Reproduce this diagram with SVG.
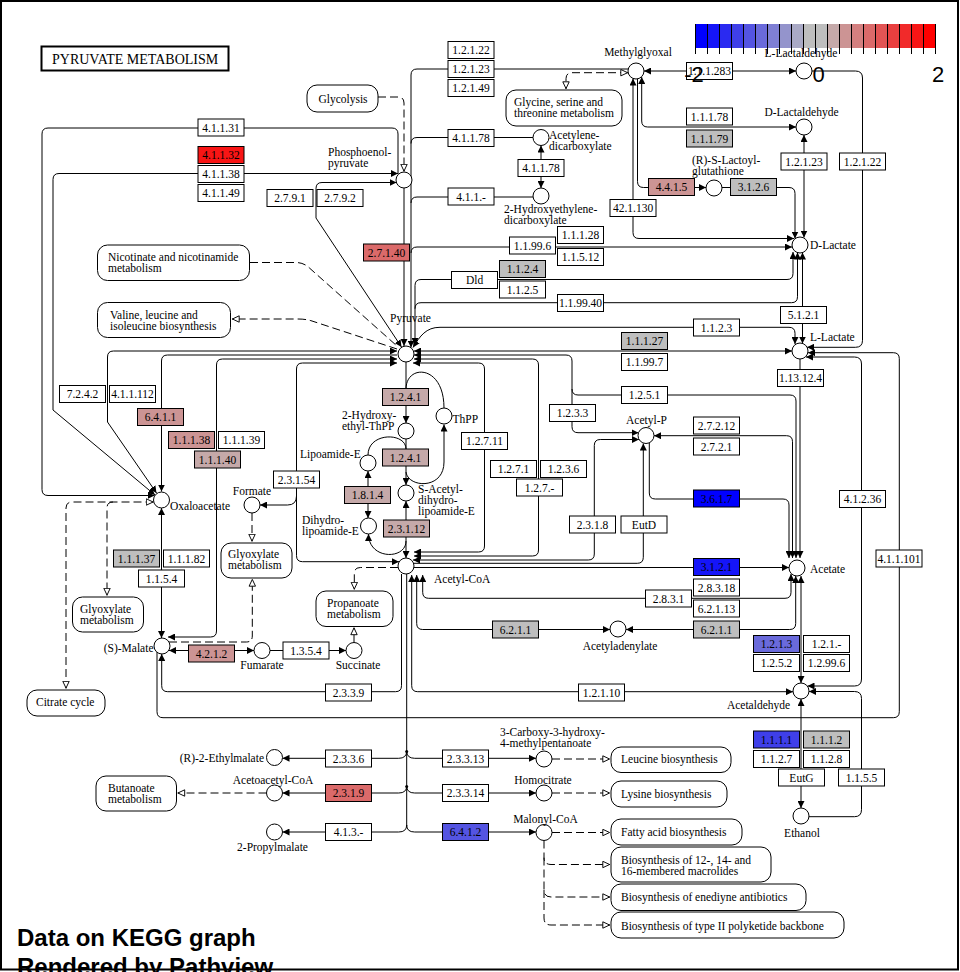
<svg xmlns="http://www.w3.org/2000/svg" width="960" height="972" viewBox="0 0 960 972">
<defs>
<style>
text{font-family:"Liberation Serif","Times New Roman",serif;font-size:11.5px;fill:#000}
.t{text-anchor:middle}
.s{text-anchor:start}
.n{text-anchor:end}
.e{fill:#fff;stroke:#000;stroke-width:1}
.g{fill:#BEBEBE}
.p1{fill:#C5A9A9}
.p2{fill:#CC9494}
.r4{fill:#DB6A6A}
.r9{fill:#F81515}
.b0{fill:#0000FF}
.b1{fill:#1515F8}
.b3{fill:#3F3FE9}
.b4{fill:#5454E2}
.b5{fill:#6A6ADB}
.c{fill:#fff;stroke:#000;stroke-width:1}
.m{fill:#fff;stroke:#000;stroke-width:1}
.l{fill:none;stroke:#000;stroke-width:1}
.d{fill:none;stroke:#000;stroke-width:1;stroke-dasharray:8 4}
.lg{font-family:"Liberation Sans",Arial,sans-serif;font-size:22px;text-anchor:middle}
.ft{font-family:"Liberation Sans",Arial,sans-serif;font-size:24px;font-weight:bold}
</style>
<marker id="a" viewBox="0 0 8 8" refX="8" refY="4" markerWidth="7" markerHeight="7" markerUnits="userSpaceOnUse" orient="auto-start-reverse"><path d="M0,0 L8,4 L0,8 z" fill="#000"/></marker>
<marker id="o" viewBox="0 0 10 10" refX="10" refY="5" markerWidth="8" markerHeight="8" markerUnits="userSpaceOnUse" orient="auto-start-reverse"><path d="M1,1 L9.5,5 L1,9 z" fill="#fff" stroke="#000" stroke-width="1.2"/></marker>
</defs>
<rect x="0" y="0" width="960" height="972" fill="#fff"/>
<rect x="1" y="1" width="957" height="968.5" fill="none" stroke="#000" stroke-width="2"/>

<g id="title"><rect x="41.5" y="46.5" width="187" height="24" fill="#fff" stroke="#000" stroke-width="2"/><text x="52" y="64" style="font-size:14px">PYRUVATE METABOLISM</text></g>

<g id="connectors">
<path class="l" d="M398,174 L398,134 Q398,128 392,128 L48,128 Q42,128 42,134 L42,489.5 Q42,495.5 48,495.5 L154.5,495.5" marker-end="url(#a)"/>
<path class="l" d="M155,495 L53,410 L53,179.5 Q53,173.5 59,173.5 L398,173.5" marker-start="url(#a)" marker-end="url(#a)"/>
<path class="l" d="M397,351 L113.5,351 Q107.5,351 107.5,357 L107.5,422 L156.5,493" marker-start="url(#a)" marker-end="url(#a)"/>
<path class="l" d="M397,355 L167.5,355 Q161.5,355 161.5,361 L161.5,491.5" marker-end="url(#a)"/>
<path class="l" d="M397,359 L222.5,359 Q216.5,359 216.5,365 L216.5,631 Q216.5,637 210.5,637 L168,637" marker-start="url(#a)" marker-end="url(#a)"/>
<path class="l" d="M397,363 L302.5,363 Q296.5,363 296.5,369 L296.5,555.7 Q296.5,561.7 302.5,561.7 L399,561.7" marker-start="url(#a)" marker-end="url(#a)"/>
<path class="l" d="M296.5,496 Q296.5,505 287.5,505 L260,505" marker-end="url(#a)"/>
<path class="l" d="M161.5,508 L161.5,638" marker-start="url(#a)" marker-end="url(#a)"/>
<path class="l" d="M169,650.5 L254,650.5" marker-start="url(#a)" marker-end="url(#a)"/>
<path class="l" d="M270,650.5 L346,650.5" marker-end="url(#a)"/>
<path class="l" d="M401.5,574 L401.5,685.7 Q401.5,691.7 395.5,691.7 L167.7,691.7 Q161.7,691.7 161.7,685.7 L161.7,654" marker-end="url(#a)"/>
<path class="l" d="M157,652 L157,711.7 Q157,717.7 163,717.7 L893.3,717.7 Q899.3,717.7 899.3,711.7 L899.3,358.7 Q899.3,352.7 893.3,352.7 L808,352.7" marker-end="url(#a)"/>
<path class="l" d="M812,71 L855.5,71 Q862.5,71 862.5,78 L862.5,340.3 Q862.5,347.3 855.5,347.3 L807,347.3" marker-end="url(#a)"/>
<path class="l" d="M806,357 L854.5,357 Q861.5,357 861.5,364 L861.5,679 Q861.5,686 854.5,686 L807.5,686" marker-start="url(#a)" marker-end="url(#a)"/>
<path class="l" d="M809,691.5 L854.5,691.5 Q861.5,691.5 861.5,698.5 L861.5,809.7 Q861.5,816.7 854.5,816.7 L809,816.7" marker-start="url(#a)"/>
<path class="l" d="M801,699 L801,808" marker-start="url(#a)" marker-end="url(#a)"/>
<path class="l" d="M801,576 L801,683" marker-start="url(#a)" marker-end="url(#a)"/>
<path class="l" d="M411.7,575 L411.7,685.7 Q411.7,691.7 417.7,691.7 L793,691.7" marker-start="url(#a)" marker-end="url(#a)"/>
<path class="l" d="M416.7,575 L416.7,623.5 Q416.7,629.5 422.7,629.5 L610,629.5" marker-start="url(#a)" marker-end="url(#a)"/>
<path class="l" d="M626,629.5 L789.7,629.5 Q795.7,629.5 795.7,623.5 L795.7,576" marker-start="url(#a)" marker-end="url(#a)"/>
<path class="l" d="M422.7,575 L422.7,592.3 Q422.7,598.3 428.7,598.3 L785,598.3 Q791,598.3 791,592.3 L791,574" marker-start="url(#a)" marker-end="url(#a)"/>
<path class="l" d="M414,567.5 L789,567.5" marker-end="url(#a)"/>
<path class="l" d="M643.3,443.5 L643.3,557.3 Q643.3,563.3 637.3,563.3 L413.5,563.3" marker-start="url(#a)"/>
<path class="l" d="M649.3,443 L649.3,493 Q649.3,499 655.3,499 L783,499 Q789,499 789,505 L789,558" marker-end="url(#a)"/>
<path class="l" d="M654,435.7 L786.5,435.7 Q792.5,435.7 792.5,441.7 L792.5,558" marker-start="url(#a)" marker-end="url(#a)"/>
<path class="l" d="M414,355 L566,355 Q572,355 572,361 L572,426.7 Q572,432.7 578,432.7 L638.5,432.7" marker-start="url(#a)" marker-end="url(#a)"/>
<path class="l" d="M572,389 Q572,395 578,395 L790,395 Q796,395 796,401 L796,558" marker-end="url(#a)"/>
<path class="l" d="M800,359 L800,558" marker-end="url(#a)"/>
<path class="l" d="M414,351 L792,351" marker-start="url(#a)" marker-end="url(#a)"/>
<path class="l" d="M413,347.5 C420,336 426,327.3 440,327.3 L789,327.3 Q795,327.3 795,333.3 L795,344" marker-start="url(#a)" marker-end="url(#a)"/>
<path class="l" d="M802.5,252.5 L802.5,343.5" marker-start="url(#a)" marker-end="url(#a)"/>
<path class="l" d="M793,252 L793,273.5 Q793,279.5 787,279.5 L421,279.5 Q415,279.5 415,285.5 L415,345" marker-start="url(#a)" marker-end="url(#a)"/>
<path class="l" d="M797.5,252.5 L797.5,296.7 Q797.5,302.7 791.5,302.7 L421,302.7 Q415,302.7 415,308.7" marker-start="url(#a)"/>
<path class="l" d="M628,69 L417,69 Q411,69 411,75 L411,347.5" marker-end="url(#a)"/>
<path class="l" d="M533,137.5 L417,137.5 Q411,137.5 411,143.5"/>
<path class="l" d="M533,197 L417,197 Q411,197 411,203"/>
<path class="l" d="M792,247 L417,247 Q411,247 411,253" marker-start="url(#a)"/>
<path class="l" d="M633,78.5 L633,232.5 Q633,238.5 639,238.5 L794,238.5" marker-start="url(#a)" marker-end="url(#a)"/>
<path class="l" d="M641.7,77 L641.7,121 Q641.7,127 647.7,127 L796,127" marker-start="url(#a)" marker-end="url(#a)"/>
<path class="l" d="M637.5,79 L637.5,181.5 Q637.5,187.5 643.5,187.5 L706,187.5" marker-end="url(#a)"/>
<path class="l" d="M722,187.5 L789,187.5 Q795,187.5 795,193.5 L795,238.5" marker-end="url(#a)"/>
<path class="l" d="M804,135 L804,237.5" marker-start="url(#a)" marker-end="url(#a)"/>
<path class="l" d="M644,71 L796,71" marker-start="url(#a)" marker-end="url(#a)"/>
<path class="l" d="M541,145.5 L541,188" marker-start="url(#a)" marker-end="url(#a)"/>
<path class="l" d="M404,188 L404,346" marker-end="url(#a)"/>
<path class="l" d="M396.5,182.5 L322,182.5 Q316,182.5 316,188.5 L316,218 L401.5,347" marker-start="url(#a)" marker-end="url(#a)"/>
<path class="d" d="M378,97 L398,97 Q404,97 404,103 L404,171.5" marker-end="url(#o)"/>
<path class="d" d="M250,262.5 L296,262.5 Q304,262.5 310,268.5 L397,346"/>
<path class="d" d="M397,349 L312,321 Q306,319 298,319 L232,319" marker-end="url(#o)"/>
<path class="d" d="M628,72.7 L572,72.7 Q566,72.7 566,78.7 L566,89" marker-start="url(#o)" marker-end="url(#o)"/>
<path class="d" d="M153.5,502 L72,502 Q66,502 66,508 L66,688.5" marker-start="url(#o)" marker-end="url(#o)"/>
<path class="d" d="M113,502 Q107,502 107,508 L107,595.5" marker-end="url(#o)"/>
<path class="d" d="M252,513 L252,541.5" marker-end="url(#o)"/>
<path class="d" d="M169,642 L246.3,642 Q252.3,642 252.3,636 L252.3,579" marker-end="url(#o)"/>
<path class="d" d="M398,567.5 L360.3,567.5 Q354.3,567.5 354.3,573.5 L354.3,589.5" marker-end="url(#o)"/>
<path class="d" d="M354,642.5 L354,627.5" marker-end="url(#o)"/>
<path class="d" d="M266.5,793 L177.5,793" marker-end="url(#o)"/>
<path class="l" d="M406.7,574 L406.7,826"/>
<path class="l" d="M282.5,758.3 L398.7,758.3 Q406.7,758.3 406.7,751 Q406.7,758.3 414.7,758.3 L536,758.3" marker-start="url(#a)" marker-end="url(#a)"/>
<path class="l" d="M282.5,793 L398.7,793 Q406.7,793 406.7,786 Q406.7,793 414.7,793 L536,793" marker-start="url(#a)" marker-end="url(#a)"/>
<path class="l" d="M282.5,832 L398.7,832 Q406.7,832 406.7,825 Q406.7,832 414.7,832 L536,832" marker-start="url(#a)" marker-end="url(#a)"/>
<circle cx="406.7" cy="751.5" r="1.5"/>
<circle cx="406.7" cy="786.5" r="1.5"/>
<path class="d" d="M552,759 L610,759" marker-end="url(#o)"/>
<path class="d" d="M552,793 L610,793" marker-end="url(#o)"/>
<path class="d" d="M552,832.5 L610,832.5" marker-end="url(#o)"/>
<path class="d" d="M544,840.5 L544,857.5 Q544,864.5 551,864.5 L610,864.5" marker-end="url(#o)"/>
<path class="d" d="M544,857.5 L544,890 Q544,897 551,897 L610,897" marker-end="url(#o)"/>
<path class="d" d="M544,890 L544,918 Q544,925 551,925 L610,925" marker-end="url(#o)"/>
<path class="l" d="M639,439.5 L600.3,439.5 Q594.3,439.5 594.3,445.5 L594.3,554 Q594.3,560 588.3,560 L413,560" marker-start="url(#a)" marker-end="url(#a)"/>
<path class="l" d="M414,359 L532.5,359 Q538.5,359 538.5,365 L538.5,550 Q538.5,556 532.5,556 L414,556" marker-start="url(#a)" marker-end="url(#a)"/>
<path class="l" d="M413,363 L478.5,363 Q484.5,363 484.5,369 L484.5,546 Q484.5,552 478.5,552 L414,552" marker-start="url(#a)" marker-end="url(#a)"/>
<path class="l" d="M406,362 L406,423" marker-end="url(#a)"/>
<path class="l" d="M406,389 C406,364 444,364 444,408"/>
<path class="l" d="M406,472 C408,488 444,490 444,462 L444,424.5" marker-end="url(#a)"/>
<path class="l" d="M406,439 L406,485" marker-end="url(#a)"/>
<path class="l" d="M368,455 C368,432 406,432 406,449"/>
<path class="l" d="M368,471 L368,518" marker-start="url(#a)" marker-end="url(#a)"/>
<path class="l" d="M368.5,534 C368.5,560 406,560 406,541" marker-start="url(#a)"/>
<path class="l" d="M406,501 L406,558" marker-start="url(#a)" marker-end="url(#a)"/>
</g>

<g id="maps">
<g id="m-glycolysis"><rect class="m" x="307" y="85" width="71" height="27" rx="10"/><text class="t" x="343" y="102.5">Glycolysis</text></g>
<g id="m-glycine"><rect class="m" x="506" y="90" width="116" height="36" rx="10"/><text x="514" y="106">Glycine, serine and</text><text x="514" y="117">threonine metabolism</text></g>
<g id="m-nicotinate"><rect class="m" x="97.5" y="245" width="152" height="35.5" rx="10"/><text x="108" y="261">Nicotinate and nicotinamide</text><text x="108" y="272">metabolism</text></g>
<g id="m-valine"><rect class="m" x="97.5" y="302.5" width="133" height="35" rx="10"/><text x="110" y="318.5">Valine, leucine and</text><text x="110" y="329.5">isoleucine biosynthesis</text></g>
<g id="m-glyoxylate1"><rect class="m" x="221" y="543" width="71" height="35" rx="10"/><text x="228" y="558">Glyoxylate</text><text x="228" y="569">metabolism</text></g>
<g id="m-glyoxylate2"><rect class="m" x="72.5" y="597" width="71" height="35" rx="10"/><text x="80" y="612.5">Glyoxylate</text><text x="80" y="623.5">metabolism</text></g>
<g id="m-citrate"><rect class="m" x="27" y="690" width="78" height="26" rx="10"/><text x="36" y="706">Citrate cycle</text></g>
<g id="m-propanoate"><rect class="m" x="316" y="591" width="77" height="35.5" rx="10"/><text x="327" y="607">Propanoate</text><text x="327" y="618">metabolism</text></g>
<g id="m-butanoate"><rect class="m" x="96" y="776" width="80.5" height="35" rx="10"/><text x="108" y="792">Butanoate</text><text x="108" y="803">metabolism</text></g>
<g id="m-leucine"><rect class="m" x="611" y="747" width="120" height="25.5" rx="10"/><text x="621" y="763">Leucine biosynthesis</text></g>
<g id="m-lysine"><rect class="m" x="611" y="781" width="116" height="26" rx="10"/><text x="621" y="797.5">Lysine biosynthesis</text></g>
<g id="m-fatty"><rect class="m" x="611" y="819" width="131" height="26" rx="10"/><text x="621" y="835.5">Fatty acid biosynthesis</text></g>
<g id="m-macrolides"><rect class="m" x="611" y="847" width="160" height="35" rx="10"/><text x="621" y="863.5">Biosynthesis of 12-, 14- and</text><text x="621" y="874.5">16-membered macrolides</text></g>
<g id="m-enediyne"><rect class="m" x="611" y="884" width="195" height="26.5" rx="10"/><text x="621" y="901">Biosynthesis of enediyne antibiotics</text></g>
<g id="m-polyketide"><rect class="m" x="611" y="912" width="233" height="26" rx="10"/><text x="621" y="929.5">Biosynthesis of type II polyketide backbone</text></g>
</g>

<g id="compounds">
<g id="c-pep"><circle class="c" cx="404" cy="180" r="8"/><text x="328" y="156">Phosphoenol-</text><text x="328" y="167">pyruvate</text></g>
<g id="c-methylglyoxal"><circle class="c" cx="636" cy="71" r="8"/><text class="t" x="638" y="56">Methylglyoxal</text></g>
<g id="c-llactaldehyde"><circle class="c" cx="804" cy="71" r="8"/><text class="t" x="801" y="57">L-Lactaldehyde</text></g>
<g id="c-dlactaldehyde"><circle class="c" cx="804" cy="127" r="8"/><text class="t" x="801.5" y="116">D-Lactaldehyde</text></g>
<g id="c-acetylenedicarboxylate"><circle class="c" cx="541" cy="137.5" r="8"/><text x="549" y="139">Acetylene-</text><text x="549" y="150">dicarboxylate</text></g>
<g id="c-hydroxyethylene"><circle class="c" cx="541" cy="196" r="8"/><text x="504" y="213">2-Hydroxyethylene-</text><text x="504" y="224">dicarboxylate</text></g>
<g id="c-lactoylglutathione"><circle class="c" cx="714" cy="188" r="8"/><text x="692" y="164">(R)-S-Lactoyl-</text><text x="692" y="175">glutathione</text></g>
<g id="c-dlactate"><circle class="c" cx="800" cy="245" r="8"/><text x="810" y="249">D-Lactate</text></g>
<g id="c-pyruvate"><circle class="c" cx="406" cy="354" r="8"/><text class="t" x="410.5" y="321.5">Pyruvate</text></g>
<g id="c-llactate"><circle class="c" cx="800" cy="351" r="8"/><text x="810" y="340.5">L-Lactate</text></g>
<g id="c-acetylp"><circle class="c" cx="646" cy="435.5" r="8"/><text class="t" x="646.5" y="424">Acetyl-P</text></g>
<g id="c-hethpp"><circle class="c" cx="406" cy="431" r="8"/><text x="342" y="418.5">2-Hydroxy-</text><text x="342" y="429.5">ethyl-ThPP</text></g>
<g id="c-thpp"><circle class="c" cx="444" cy="416" r="8"/><text x="452.5" y="422.5">ThPP</text></g>
<g id="c-lipoamide"><circle class="c" cx="368" cy="463" r="8"/><text x="300" y="458">Lipoamide-E</text></g>
<g id="c-sacetyl"><circle class="c" cx="406" cy="493" r="8"/><text x="418" y="492.5">S-Acetyl-</text><text x="418" y="503.5">dihydro-</text><text x="418" y="514.5">lipoamide-E</text></g>
<g id="c-dihydrolipoamide"><circle class="c" cx="368.5" cy="526" r="8"/><text x="302" y="523.5">Dihydro-</text><text x="302" y="534.5">lipoamide-E</text></g>
<g id="c-acetylcoa"><circle class="c" cx="406" cy="566" r="8"/><text x="434" y="582.5">Acetyl-CoA</text></g>
<g id="c-formate"><circle class="c" cx="252" cy="505" r="8"/><text class="t" x="252" y="495">Formate</text></g>
<g id="c-oxaloacetate"><circle class="c" cx="161.5" cy="500" r="8"/><text x="170" y="510">Oxaloacetate</text></g>
<g id="c-malate"><circle class="c" cx="162" cy="646" r="8"/><text class="n" x="153.5" y="651.5">(S)-Malate</text></g>
<g id="c-fumarate"><circle class="c" cx="262" cy="650.5" r="8"/><text class="t" x="262" y="669">Fumarate</text></g>
<g id="c-succinate"><circle class="c" cx="354" cy="650.5" r="8"/><text class="t" x="358" y="669">Succinate</text></g>
<g id="c-acetyladenylate"><circle class="c" cx="618" cy="629" r="8"/><text class="t" x="620" y="649.5">Acetyladenylate</text></g>
<g id="c-acetate"><circle class="c" cx="797" cy="568" r="8"/><text x="810" y="573">Acetate</text></g>
<g id="c-acetaldehyde"><circle class="c" cx="801" cy="691" r="8"/><text class="t" x="758.5" y="709">Acetaldehyde</text></g>
<g id="c-ethanol"><circle class="c" cx="801" cy="816" r="8"/><text class="t" x="802" y="836.5">Ethanol</text></g>
<g id="c-carboxy"><circle class="c" cx="544" cy="759" r="8"/><text x="500" y="736">3-Carboxy-3-hydroxy-</text><text x="500" y="747">4-methylpentanoate</text></g>
<g id="c-homocitrate"><circle class="c" cx="544" cy="793" r="8"/><text class="t" x="543" y="783.5">Homocitrate</text></g>
<g id="c-malonylcoa"><circle class="c" cx="544" cy="832.5" r="8"/><text class="t" x="545.5" y="822.5">Malonyl-CoA</text></g>
<g id="c-ethylmalate"><circle class="c" cx="274.5" cy="757.5" r="8"/><text class="n" x="264" y="762">(R)-2-Ethylmalate</text></g>
<g id="c-acetoacetylcoa"><circle class="c" cx="274.5" cy="793" r="8"/><text class="t" x="273" y="783.5">Acetoacetyl-CoA</text></g>
<g id="c-propylmalate"><circle class="c" cx="274.5" cy="832" r="8"/><text class="t" x="272.5" y="850.5">2-Propylmalate</text></g>
</g>

<g id="enzymes">
<g id="e1"><rect class="e" x="198" y="119" width="46" height="17"/><text class="t" x="221" y="131.5">4.1.1.31</text></g>
<g id="e2"><rect class="e r9" x="198" y="146.5" width="46" height="17"/><text class="t" x="221" y="159">4.1.1.32</text></g>
<g id="e3"><rect class="e" x="198" y="165.5" width="46" height="17"/><text class="t" x="221" y="178">4.1.1.38</text></g>
<g id="e4"><rect class="e" x="198" y="184.5" width="46" height="17"/><text class="t" x="221" y="197">4.1.1.49</text></g>
<g id="e5"><rect class="e" x="267" y="189.5" width="46" height="17"/><text class="t" x="290" y="202">2.7.9.1</text></g>
<g id="e6"><rect class="e" x="317" y="189.5" width="46" height="17"/><text class="t" x="340" y="202">2.7.9.2</text></g>
<g id="e7"><rect class="e" x="448" y="41.5" width="46" height="17"/><text class="t" x="471" y="54">1.2.1.22</text></g>
<g id="e8"><rect class="e" x="448" y="60.5" width="46" height="17"/><text class="t" x="471" y="73">1.2.1.23</text></g>
<g id="e9"><rect class="e" x="448" y="79.5" width="46" height="17"/><text class="t" x="471" y="92">1.2.1.49</text></g>
<g id="e10"><rect class="e" x="448" y="129.5" width="46" height="17"/><text class="t" x="471" y="142">4.1.1.78</text></g>
<g id="e11"><rect class="e" x="518" y="159.5" width="46" height="17"/><text class="t" x="541" y="172">4.1.1.78</text></g>
<g id="e12"><rect class="e" x="448" y="188" width="46" height="17"/><text class="t" x="471" y="200.5">4.1.1.-</text></g>
<g id="e13"><rect class="e" x="686.5" y="62.5" width="46" height="17"/><text class="t" x="709.5" y="75">1.1.1.283</text></g>
<g id="e14"><rect class="e" x="686.5" y="108" width="46" height="17"/><text class="t" x="709.5" y="120.5">1.1.1.78</text></g>
<g id="e15"><rect class="e g" x="686.5" y="130" width="46" height="17"/><text class="t" x="709.5" y="142.5">1.1.1.79</text></g>
<g id="e16"><rect class="e" x="781" y="153" width="46" height="17"/><text class="t" x="804" y="165.5">1.2.1.23</text></g>
<g id="e17"><rect class="e" x="839.5" y="153" width="46" height="17"/><text class="t" x="862.5" y="165.5">1.2.1.22</text></g>
<g id="e18"><rect class="e p2" x="648.5" y="178.5" width="46" height="17"/><text class="t" x="671.5" y="191">4.4.1.5</text></g>
<g id="e19"><rect class="e g" x="730.5" y="178.5" width="46" height="17"/><text class="t" x="753.5" y="191">3.1.2.6</text></g>
<g id="e20"><rect class="e" x="610" y="199.5" width="46" height="17"/><text class="t" x="633" y="212">42.1.130</text></g>
<g id="e21"><rect class="e" x="557.5" y="226.5" width="46" height="17"/><text class="t" x="580.5" y="239">1.1.1.28</text></g>
<g id="e22"><rect class="e" x="509.5" y="237" width="46" height="17"/><text class="t" x="532.5" y="249.5">1.1.99.6</text></g>
<g id="e23"><rect class="e" x="557.5" y="248.5" width="46" height="17"/><text class="t" x="580.5" y="261">1.1.5.12</text></g>
<g id="e24"><rect class="e r4" x="363.5" y="244" width="46" height="17"/><text class="t" x="386.5" y="256.5">2.7.1.40</text></g>
<g id="e25"><rect class="e" x="451.5" y="271.5" width="46" height="17"/><text class="t" x="474.5" y="284">Dld</text></g>
<g id="e26"><rect class="e g" x="499.5" y="260.5" width="46" height="17"/><text class="t" x="522.5" y="273">1.1.2.4</text></g>
<g id="e27"><rect class="e" x="499.5" y="281" width="46" height="17"/><text class="t" x="522.5" y="293.5">1.1.2.5</text></g>
<g id="e28"><rect class="e" x="557.5" y="294.5" width="46" height="17"/><text class="t" x="580.5" y="307">1.1.99.40</text></g>
<g id="e29"><rect class="e" x="780.5" y="306.5" width="46" height="17"/><text class="t" x="803.5" y="319">5.1.2.1</text></g>
<g id="e30"><rect class="e" x="693.5" y="319" width="46" height="17"/><text class="t" x="716.5" y="331.5">1.1.2.3</text></g>
<g id="e31"><rect class="e g" x="621.5" y="332.5" width="46" height="17"/><text class="t" x="644.5" y="345">1.1.1.27</text></g>
<g id="e32"><rect class="e" x="621.5" y="353.5" width="46" height="17"/><text class="t" x="644.5" y="366">1.1.99.7</text></g>
<g id="e33"><rect class="e" x="777.5" y="369.5" width="46" height="17"/><text class="t" x="800.5" y="382">1.13.12.4</text></g>
<g id="e34"><rect class="e" x="621.5" y="386.5" width="46" height="17"/><text class="t" x="644.5" y="399">1.2.5.1</text></g>
<g id="e35"><rect class="e" x="693.5" y="417" width="46" height="17"/><text class="t" x="716.5" y="429.5">2.7.2.12</text></g>
<g id="e36"><rect class="e" x="693.5" y="438" width="46" height="17"/><text class="t" x="716.5" y="450.5">2.7.2.1</text></g>
<g id="e37"><rect class="e" x="549.5" y="404.5" width="46" height="17"/><text class="t" x="572.5" y="417">1.2.3.3</text></g>
<g id="e38"><rect class="e" x="461.5" y="432.5" width="46" height="17"/><text class="t" x="484.5" y="445">1.2.7.11</text></g>
<g id="e39"><rect class="e" x="490.5" y="460.5" width="46" height="17"/><text class="t" x="513.5" y="473">1.2.7.1</text></g>
<g id="e40"><rect class="e" x="540.5" y="460.5" width="46" height="17"/><text class="t" x="563.5" y="473">1.2.3.6</text></g>
<g id="e41"><rect class="e" x="516.5" y="479" width="46" height="17"/><text class="t" x="539.5" y="491.5">1.2.7.-</text></g>
<g id="e42"><rect class="e p1" x="382.5" y="388.5" width="46" height="17"/><text class="t" x="405.5" y="401">1.2.4.1</text></g>
<g id="e43"><rect class="e p1" x="382.5" y="449" width="46" height="17"/><text class="t" x="405.5" y="461.5">1.2.4.1</text></g>
<g id="e44"><rect class="e p1" x="344.5" y="486.5" width="46" height="17"/><text class="t" x="367.5" y="499">1.8.1.4</text></g>
<g id="e45"><rect class="e p1" x="383.5" y="520" width="46" height="17"/><text class="t" x="406.5" y="532.5">2.3.1.12</text></g>
<g id="e46"><rect class="e" x="273.5" y="471" width="46" height="17"/><text class="t" x="296.5" y="483.5">2.3.1.54</text></g>
<g id="e47"><rect class="e p2" x="137.5" y="408.5" width="46" height="17"/><text class="t" x="160.5" y="421">6.4.1.1</text></g>
<g id="e48"><rect class="e" x="59.5" y="385.5" width="46" height="17"/><text class="t" x="82.5" y="398">7.2.4.2</text></g>
<g id="e49"><rect class="e" x="109.5" y="385.5" width="46" height="17"/><text class="t" x="132.5" y="398">4.1.1.112</text></g>
<g id="e50"><rect class="e p2" x="168.5" y="431.5" width="46" height="17"/><text class="t" x="191.5" y="444">1.1.1.38</text></g>
<g id="e51"><rect class="e" x="218.5" y="431.5" width="46" height="17"/><text class="t" x="241.5" y="444">1.1.1.39</text></g>
<g id="e52"><rect class="e p1" x="194.5" y="451" width="46" height="17"/><text class="t" x="217.5" y="463.5">1.1.1.40</text></g>
<g id="e53"><rect class="e g" x="113.5" y="550" width="46" height="17"/><text class="t" x="136.5" y="562.5">1.1.1.37</text></g>
<g id="e54"><rect class="e" x="163.5" y="550" width="46" height="17"/><text class="t" x="186.5" y="562.5">1.1.1.82</text></g>
<g id="e55"><rect class="e" x="138.5" y="570" width="46" height="17"/><text class="t" x="161.5" y="582.5">1.1.5.4</text></g>
<g id="e56"><rect class="e p2" x="188.5" y="645" width="46" height="17"/><text class="t" x="211.5" y="657.5">4.2.1.2</text></g>
<g id="e57"><rect class="e" x="283" y="642" width="46" height="17"/><text class="t" x="306" y="654.5">1.3.5.4</text></g>
<g id="e58"><rect class="e" x="325.5" y="684" width="46" height="17"/><text class="t" x="348.5" y="696.5">2.3.3.9</text></g>
<g id="e59"><rect class="e" x="578.5" y="684" width="46" height="17"/><text class="t" x="601.5" y="696.5">1.2.1.10</text></g>
<g id="e60"><rect class="e g" x="492.5" y="621" width="46" height="17"/><text class="t" x="515.5" y="633.5">6.2.1.1</text></g>
<g id="e61"><rect class="e" x="569.5" y="516" width="46" height="17"/><text class="t" x="592.5" y="528.5">2.3.1.8</text></g>
<g id="e62"><rect class="e" x="621" y="516" width="46" height="17"/><text class="t" x="644" y="528.5">EutD</text></g>
<g id="e63"><rect class="e b0" x="693.5" y="490" width="46" height="17"/><text class="t" x="716.5" y="502.5">3.6.1.7</text></g>
<g id="e64"><rect class="e b1" x="693.5" y="558.5" width="46" height="17"/><text class="t" x="716.5" y="571">3.1.2.1</text></g>
<g id="e65"><rect class="e" x="693.5" y="579" width="46" height="17"/><text class="t" x="716.5" y="591.5">2.8.3.18</text></g>
<g id="e66"><rect class="e" x="693.5" y="600" width="46" height="17"/><text class="t" x="716.5" y="612.5">6.2.1.13</text></g>
<g id="e67"><rect class="e g" x="693.5" y="621" width="46" height="17"/><text class="t" x="716.5" y="633.5">6.2.1.1</text></g>
<g id="e68"><rect class="e" x="645.5" y="590" width="46" height="17"/><text class="t" x="668.5" y="602.5">2.8.3.1</text></g>
<g id="e69"><rect class="e" x="839.5" y="490.5" width="46" height="17"/><text class="t" x="862.5" y="503">4.1.2.36</text></g>
<g id="e70"><rect class="e" x="876" y="550" width="46" height="17"/><text class="t" x="899" y="562.5">4.1.1.101</text></g>
<g id="e71"><rect class="e b5" x="753.5" y="635.5" width="46" height="17"/><text class="t" x="776.5" y="648">1.2.1.3</text></g>
<g id="e72"><rect class="e" x="803.5" y="635.5" width="46" height="17"/><text class="t" x="826.5" y="648">1.2.1.-</text></g>
<g id="e73"><rect class="e" x="753.5" y="654.5" width="46" height="17"/><text class="t" x="776.5" y="667">1.2.5.2</text></g>
<g id="e74"><rect class="e" x="803.5" y="654.5" width="46" height="17"/><text class="t" x="826.5" y="667">1.2.99.6</text></g>
<g id="e75"><rect class="e b3" x="753.5" y="731" width="46" height="17"/><text class="t" x="776.5" y="743.5">1.1.1.1</text></g>
<g id="e76"><rect class="e g" x="803.5" y="731" width="46" height="17"/><text class="t" x="826.5" y="743.5">1.1.1.2</text></g>
<g id="e77"><rect class="e" x="753.5" y="750.5" width="46" height="17"/><text class="t" x="776.5" y="763">1.1.2.7</text></g>
<g id="e78"><rect class="e" x="803.5" y="750.5" width="46" height="17"/><text class="t" x="826.5" y="763">1.1.2.8</text></g>
<g id="e79"><rect class="e" x="778.5" y="769" width="46" height="17"/><text class="t" x="801.5" y="781.5">EutG</text></g>
<g id="e80"><rect class="e" x="838.5" y="769" width="46" height="17"/><text class="t" x="861.5" y="781.5">1.1.5.5</text></g>
<g id="e81"><rect class="e" x="325.5" y="750" width="46" height="17"/><text class="t" x="348.5" y="762.5">2.3.3.6</text></g>
<g id="e82"><rect class="e" x="442.5" y="750" width="46" height="17"/><text class="t" x="465.5" y="762.5">2.3.3.13</text></g>
<g id="e83"><rect class="e" x="442.5" y="784.5" width="46" height="17"/><text class="t" x="465.5" y="797">2.3.3.14</text></g>
<g id="e84"><rect class="e r4" x="325.5" y="784.5" width="46" height="17"/><text class="t" x="348.5" y="797">2.3.1.9</text></g>
<g id="e85"><rect class="e" x="325.5" y="823.5" width="46" height="17"/><text class="t" x="348.5" y="836">4.1.3.-</text></g>
<g id="e86"><rect class="e b4" x="442.5" y="823.5" width="46" height="17"/><text class="t" x="465.5" y="836">6.4.1.2</text></g>
</g>

<g id="legend">
<rect x="695" y="24" width="12.1" height="24" fill="#0000FF"/>
<rect x="707.05" y="24" width="12.1" height="24" fill="#1515F8"/>
<rect x="719.1" y="24" width="12.1" height="24" fill="#2A2AF1"/>
<rect x="731.15" y="24" width="12.1" height="24" fill="#3F3FE9"/>
<rect x="743.2" y="24" width="12.1" height="24" fill="#5454E2"/>
<rect x="755.25" y="24" width="12.1" height="24" fill="#6A6ADB"/>
<rect x="767.3" y="24" width="12.1" height="24" fill="#7F7FD4"/>
<rect x="779.35" y="24" width="12.1" height="24" fill="#9494CC"/>
<rect x="791.4" y="24" width="12.1" height="24" fill="#A9A9C5"/>
<rect x="803.45" y="24" width="12.1" height="24" fill="#BEBEBE"/>
<rect x="815.5" y="24" width="12.1" height="24" fill="#BEBEBE"/>
<rect x="827.55" y="24" width="12.1" height="24" fill="#C5A9A9"/>
<rect x="839.6" y="24" width="12.1" height="24" fill="#CC9494"/>
<rect x="851.65" y="24" width="12.1" height="24" fill="#D47F7F"/>
<rect x="863.7" y="24" width="12.1" height="24" fill="#DB6A6A"/>
<rect x="875.75" y="24" width="12.1" height="24" fill="#E25454"/>
<rect x="887.8" y="24" width="12.1" height="24" fill="#E93F3F"/>
<rect x="899.85" y="24" width="12.1" height="24" fill="#F12A2A"/>
<rect x="911.9" y="24" width="12.1" height="24" fill="#F81515"/>
<rect x="923.95" y="24" width="12.05" height="24" fill="#FF0000"/>
<path stroke="#000" stroke-width="1" d="M695.5,24V54M707.5,24V54M719.5,24V54M731.5,24V54M743.5,24V54M755.5,24V54M767.5,24V54M779.5,24V54M791.5,24V54M803.5,24V54M815.5,24V54M827.5,24V54M839.5,24V54M851.5,24V54M863.5,24V54M875.5,24V54M887.5,24V54M899.5,24V54M911.5,24V54M923.5,24V54M935.5,24V54"/>
<text class="lg" x="694" y="81.5">-2</text>
<text class="lg" x="818.5" y="81.5">0</text>
<text class="lg" x="938" y="81.5">2</text>
</g>

<g id="footer">
<text class="ft" x="17" y="946">Data on KEGG graph</text>
<text class="ft" x="17" y="974.5">Rendered by Pathview</text>
</g>
</svg>
